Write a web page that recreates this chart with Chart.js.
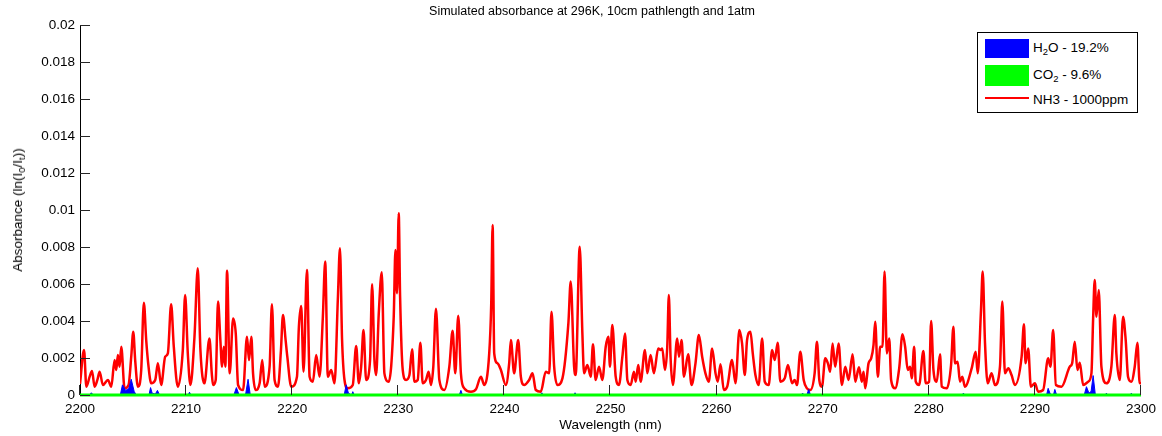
<!DOCTYPE html>
<html>
<head>
<meta charset="utf-8">
<script src="https://cdn.jsdelivr.net/npm/chart.js@4.4.1/dist/chart.umd.min.js"></script>
<style>
  body { margin: 0; background: #fff; }
  #wrap { position: relative; width: 1162px; height: 436px; font-family: "Liberation Sans", Arial, Helvetica, sans-serif; color: #000; }
  canvas { position: absolute; left: 0; top: 0; }
  .txt { position: absolute; white-space: nowrap; line-height: 16px; font-size: 13.5px; }
  .txt sub { font-size: 70%; vertical-align: -0.35em; line-height: 0; }
  #title { left: 592px; top: 4px; transform: translateX(-50%); font-size: 12.5px; line-height: 14px; }
  #ytitle { left: 18px; top: 210px; transform: translate(-50%, -50%) rotate(-90deg); }
  #legend { position: absolute; left: 977px; top: 32px; width: 159px; height: 79px; border: 1px solid #000; background: #fff; }
  .patch { position: absolute; }
</style>
</head>
<body>
<div id="wrap">
  <canvas id="chart" width="1162" height="436"></canvas>
  <div id="title" class="txt">Simulated absorbance at 296K, 10cm pathlength and 1atm</div>
  <div id="ytitle" class="txt">Absorbance (ln(I<sub>0</sub>/I<sub>t</sub>))</div>
  <div id="legend">
    <div class="patch" style="left:7px;top:6px;width:44px;height:19px;background:#0000ff"></div>
    <div class="patch" style="left:7px;top:32px;width:44px;height:21px;background:#00ff00"></div>
    <div class="patch" style="left:7px;top:64px;width:44px;height:2px;background:#ff0000"></div>
    <div class="txt" style="left:55px;top:7px">H<sub>2</sub>O - 19.2%</div>
    <div class="txt" style="left:55px;top:34px">CO<sub>2</sub> - 9.6%</div>
    <div class="txt" style="left:55px;top:59px">NH3 - 1000ppm</div>
  </div>
</div>
<script>
// NH3 absorbance spectrum (absorbance x 1000)
const nh3Wl = [
  2200.0, 2200.38, 2200.6, 2200.91, 2201.13, 2201.38, 2201.63, 2201.85, 2202.16, 2202.63, 2202.95, 2203.26, 2203.42, 2203.57, 2203.73, 2203.89, 2204.2, 2204.58, 2204.83, 2205.02, 2205.2, 2205.46, 2205.77, 2206.02, 2206.24, 2206.46, 2206.71, 2207.09, 2207.34, 2207.65, 2208.03, 2208.28, 2208.59, 2208.84, 2209.22, 2209.69, 2209.91,
  2210.16, 2210.41, 2210.79, 2211.1, 2211.35, 2211.73, 2212.2, 2212.42, 2212.54, 2212.79, 2213.01, 2213.23, 2213.39, 2213.55, 2213.7, 2213.86, 2214.11, 2214.43, 2214.68, 2214.9, 2215.37, 2215.74, 2215.93, 2216.15, 2216.31, 2216.56, 2216.93, 2217.18, 2217.4, 2217.87, 2218.09, 2218.34, 2218.66, 2218.94, 2219.13, 2219.38, 2219.54, 2219.91,
  2220.45, 2220.63, 2220.85, 2221.07, 2221.39, 2221.64, 2221.95, 2222.26, 2222.58, 2222.89, 2223.11, 2223.36, 2223.68, 2223.99, 2224.3, 2224.5, 2224.7, 2224.93, 2225.24, 2225.71, 2226.03, 2226.28, 2226.5, 2226.72, 2226.97, 2227.34, 2227.53, 2227.75, 2227.91, 2228.16, 2228.44, 2228.69, 2229.1, 2229.57, 2229.73, 2229.88,
  2230.04, 2230.17, 2230.42, 2230.73, 2231.05, 2231.3, 2231.52, 2231.83, 2232.08, 2232.3, 2232.61, 2232.86, 2233.08, 2233.3, 2233.55, 2233.87, 2234.34, 2234.81, 2235.12, 2235.37, 2235.65, 2235.9, 2236.22, 2236.85, 2237.32, 2237.79, 2238.1, 2238.57, 2238.76, 2238.89, 2239.04, 2239.36, 2239.67,
  2240.14, 2240.45, 2240.61, 2240.92, 2241.3, 2241.55, 2241.86, 2242.33, 2242.65, 2242.96, 2243.43, 2243.9, 2244.22, 2244.44, 2244.69, 2245.0, 2245.47, 2246.03, 2246.25, 2246.57, 2246.72, 2247.1, 2247.35, 2247.51, 2247.82, 2248.14, 2248.35, 2248.6, 2248.92, 2249.23, 2249.55, 2249.8, 2249.95,
  2250.17, 2250.49, 2250.8, 2251.12, 2251.37, 2251.59, 2251.9, 2252.21, 2252.37, 2252.62, 2252.84, 2253.25, 2253.47, 2253.78, 2254.09, 2254.5, 2254.72, 2254.88, 2255.13, 2255.35, 2255.5, 2255.66, 2255.88, 2256.29, 2256.45, 2256.7, 2256.92, 2257.32, 2257.64, 2258.01, 2258.33, 2258.64, 2258.95, 2259.27, 2259.58, 2259.9,
  2260.11, 2260.37, 2260.68, 2261.0, 2261.46, 2261.78, 2262.15, 2262.4, 2262.66, 2262.87, 2263.19, 2263.41, 2263.66, 2263.97, 2264.29, 2264.54, 2264.91, 2265.23, 2265.48, 2265.76, 2266.01, 2266.42, 2266.73, 2267.11, 2267.36, 2267.58, 2267.89, 2268.21, 2268.52, 2268.83, 2269.24, 2269.46, 2269.68, 2269.93,
  2270.24, 2270.49, 2270.71, 2270.93, 2271.18, 2271.5, 2271.81, 2272.13, 2272.44, 2272.82, 2273.07, 2273.42, 2273.69, 2273.85, 2274.01, 2274.32, 2274.57, 2274.79, 2274.95, 2275.2, 2275.42, 2275.64, 2275.83, 2276.05, 2276.27, 2276.45, 2276.83, 2277.21, 2277.52, 2277.77, 2278.02, 2278.24, 2278.4, 2278.62, 2278.77, 2279.09, 2279.49, 2279.71,
  2280.03, 2280.22, 2280.44, 2280.75, 2281.06, 2281.22, 2281.69, 2282.1, 2282.32, 2282.47, 2282.72, 2282.94, 2283.16, 2283.41, 2284.04, 2284.42, 2284.61, 2284.92, 2285.08, 2285.3, 2285.55, 2285.92, 2286.24, 2286.71, 2286.93, 2287.18, 2287.49, 2287.8, 2288.12, 2288.75, 2288.97, 2289.12, 2289.37, 2289.62,
  2290.0, 2290.31, 2290.78, 2291.25, 2291.47, 2291.72, 2291.98, 2292.51, 2293.29, 2293.51, 2293.76, 2294.01, 2294.23, 2294.55, 2295.02, 2295.33, 2295.49, 2295.64, 2295.8, 2296.02, 2296.27, 2296.74, 2297.21, 2297.53, 2297.68, 2298.0, 2298.31, 2298.56, 2298.78, 2299.09, 2299.41, 2299.66, 2299.88, 2300.0
]
const nh3Milli = [
  0.6, 2.43, 0.45, 0.99, 1.3, 0.45, 0.8, 1.26, 0.54, 0.81, 0.45, 1.89, 1.35, 2.16, 1.53, 2.61, 0.36, 0.54, 2.07, 3.42, 1.89, 0.45, 1.35, 4.99, 2.97, 1.53, 0.63, 0.81, 1.71, 0.54, 2.07, 2.25, 4.9, 2.61, 0.45, 2.43, 5.4,
  2.25, 0.54, 3.15, 6.85, 2.43, 0.63, 3.06, 1.17, 0.54, 0.81, 5.05, 2.97, 1.53, 2.61, 1.53, 6.72, 1.17, 4.14, 3.33, 0.54, 0.27, 3.15, 1.89, 3.15, 1.17, 0.27, 0.63, 1.89, 0.45, 1.53, 4.9, 0.81, 0.45, 2.43, 4.32, 2.97, 2.07, 0.45,
  0.99, 3.69, 4.81, 1.26, 6.76, 0.99, 0.72, 2.16, 0.99, 4.23, 7.21, 0.99, 1.35, 0.63, 5.14, 7.93, 3.0, 0.81, 0.36, 0.54, 2.65, 0.63, 1.53, 3.51, 0.81, 1.89, 5.99, 1.89, 1.08, 4.41, 6.63, 1.17, 0.72, 4.23, 7.84, 5.5,
  9.82, 5.32, 1.35, 0.81, 1.08, 2.47, 0.72, 0.81, 2.83, 0.63, 0.81, 1.26, 0.54, 1.53, 4.66, 0.81, 0.27, 1.53, 3.47, 1.17, 4.29, 1.17, 0.36, 0.18, 0.31, 0.99, 0.54, 2.25, 4.95, 9.19, 2.25, 1.71, 1.35,
  0.54, 1.71, 2.97, 1.17, 2.97, 0.99, 0.54, 0.81, 1.17, 0.27, 0.18, 1.26, 1.17, 4.5, 1.53, 0.54, 0.9, 3.87, 6.13, 1.53, 1.08, 8.02, 3.33, 1.17, 1.62, 0.99, 2.75, 0.81, 1.53, 0.81, 2.61, 3.15, 1.53,
  3.78, 0.99, 0.54, 2.07, 3.33, 0.81, 0.54, 1.26, 0.72, 1.62, 0.72, 2.43, 1.17, 2.16, 1.17, 2.52, 2.43, 2.52, 1.35, 2.61, 5.4, 2.07, 0.54, 3.06, 2.07, 2.97, 0.99, 2.2, 0.54, 1.71, 3.24, 2.07, 1.17, 0.72, 2.52, 1.17,
  0.72, 1.66, 0.27, 0.45, 1.89, 0.63, 3.51, 2.79, 1.08, 2.97, 3.42, 2.25, 1.08, 0.54, 3.06, 0.72, 0.54, 2.43, 1.89, 2.83, 0.72, 0.9, 1.62, 0.63, 0.81, 0.54, 2.34, 0.81, 0.36, 0.27, 1.17, 2.88, 0.81, 0.45,
  1.98, 1.71, 1.26, 2.79, 1.53, 2.79, 0.54, 1.53, 0.81, 2.2, 0.72, 1.5, 0.72, 1.26, 0.36, 1.71, 1.98, 2.7, 3.96, 0.99, 2.61, 2.61, 6.67, 2.25, 3.06, 0.81, 0.36, 1.44, 3.29, 2.61, 1.35, 1.53, 0.9, 2.61, 0.72, 0.54, 2.38, 0.63,
  0.72, 4.0, 1.35, 0.72, 2.2, 0.45, 0.36, 1.62, 3.69, 1.71, 1.8, 0.72, 0.99, 0.45, 1.44, 2.34, 1.17, 4.59, 6.67, 2.79, 0.63, 1.17, 0.54, 1.53, 5.05, 1.17, 1.44, 1.08, 0.54, 2.07, 3.83, 1.71, 2.52, 0.45,
  0.63, 0.18, 0.27, 1.98, 1.53, 3.51, 0.54, 0.45, 1.53, 1.71, 2.88, 1.35, 1.75, 0.54, 0.72, 1.17, 4.14, 6.22, 4.23, 5.68, 1.53, 0.63, 1.53, 4.32, 2.25, 0.81, 4.23, 2.97, 0.99, 0.72, 1.53, 2.83, 0.63, 0.63
]

// H2O lines (small, filled from zero), absorbance x 1000
const h2oWl = [
  2200.9, 2201.07, 2201.25,
  2203.8, 2204.0, 2204.3, 2204.6, 2204.83, 2205.1, 2205.3,
  2206.5, 2206.65, 2206.8, 2207.1, 2207.3, 2207.5,
  2210.2, 2210.32, 2210.45,
  2214.5, 2214.74, 2215.0, 2215.6, 2215.84, 2216.05,
  2224.9, 2225.09, 2225.3, 2225.6, 2225.71, 2225.85,
  2235.75, 2235.9, 2236.05,
  2243.4, 2243.53, 2243.65,
  2246.55, 2246.66, 2246.8,
  2267.95, 2268.11, 2268.25, 2268.5, 2268.68, 2268.85,
  2283.15, 2283.26, 2283.4,
  2291.1, 2291.25, 2291.45, 2291.75, 2291.88, 2292.05,
  2294.65, 2294.86, 2295.1, 2295.3, 2295.49, 2295.7,
  2296.65, 2296.74, 2296.85,
  2299.0, 2299.09, 2299.2
]
const h2oMilli = [
  0, 0.12, 0,
  0, 0.55, 0.25, 0.35, 0.85, 0.2, 0,
  0, 0.4, 0.1, 0.05, 0.25, 0,
  0, 0.15, 0,
  0, 0.4, 0, 0, 0.85, 0,
  0, 0.55, 0.1, 0, 0.18, 0,
  0, 0.25, 0,
  0, 0.12, 0,
  0, 0.12, 0,
  0, 0.1, 0, 0, 0.3, 0,
  0, 0.1, 0,
  0, 0.36, 0.05, 0, 0.3, 0,
  0, 0.45, 0.1, 0.2, 1.05, 0,
  0, 0.1, 0,
  0, 0.1, 0
]

// CO2 stays on the baseline over the whole range
const co2Wl = [2200, 2300]
const co2Milli = [0, 0]

const xTicks = { min: 2200, max: 2300, step: 10 }
const yTicks = { min: 0, max: 0.02, step: 0.002 }

const FONT = '"Liberation Sans", Arial, Helvetica, sans-serif'

function toPoints(wl, milli) {
  return wl.map((x, i) => ({ x: x, y: milli[i] / 1000 }))
}

// MATLAB style tick marks pointing into the axes
const insideTicks = {
  id: 'insideTicks',
  afterDatasetsDraw(chart) {
    const { ctx, chartArea, scales } = chart
    const len = 10
    ctx.save()
    ctx.strokeStyle = '#262626'
    ctx.lineWidth = 1
    ctx.beginPath()
    scales.x.ticks.forEach(t => {
      const px = Math.round(scales.x.getPixelForValue(t.value)) - 0.5
      ctx.moveTo(px, chartArea.bottom)
      ctx.lineTo(px, chartArea.bottom - len)
    })
    scales.y.ticks.forEach(t => {
      const py = Math.round(scales.y.getPixelForValue(t.value)) + 0.5
      ctx.moveTo(chartArea.left, py)
      ctx.lineTo(chartArea.left + len, py)
    })
    ctx.stroke()
    ctx.restore()
  }
}

const ctx = document.getElementById('chart')

new Chart(ctx, {
  type: 'line',
  data: {
    datasets: [
      {
        label: 'CO2 - 9.6%',
        data: toPoints(co2Wl, co2Milli),
        borderColor: '#00ff00',
        borderWidth: 3,
        pointRadius: 0,
        fill: false,
        clip: 4,
        order: 0
      },
      {
        label: 'H2O - 19.2%',
        data: toPoints(h2oWl, h2oMilli),
        borderColor: '#0000ff',
        backgroundColor: '#0000ff',
        borderWidth: 1,
        pointRadius: 0,
        fill: 'origin',
        order: 1
      },
      {
        label: 'NH3 - 1000ppm',
        data: toPoints(nh3Wl, nh3Milli),
        borderColor: '#ff0000',
        borderWidth: 2.5,
        pointRadius: 0,
        fill: false,
        cubicInterpolationMode: 'monotone',
        order: 2
      }
    ]
  },
  options: {
    responsive: false,
    animation: false,
    layout: { padding: { top: 25, right: 19, left: 0, bottom: 0 } },
    plugins: {
      legend: { display: false },
      tooltip: { enabled: false },
      title: { display: false }
    },
    scales: {
      x: {
        type: 'linear',
        min: xTicks.min,
        max: xTicks.max,
        grid: { display: false, drawTicks: false },
        border: { display: true, color: '#000', width: 1 },
        ticks: {
          stepSize: xTicks.step,
          maxRotation: 0,
          padding: 6,
          color: '#000',
          font: { family: FONT, size: 13.5 },
          callback: v => String(v)
        },
        title: {
          display: true,
          text: 'Wavelength (nm)',
          color: '#000',
          font: { family: FONT, size: 13.5 },
          padding: { top: 0, bottom: 3 }
        },
        afterFit: scale => { scale.height = 41 }
      },
      y: {
        type: 'linear',
        min: yTicks.min,
        max: yTicks.max,
        grid: { display: false, drawTicks: false },
        border: { display: true, color: '#000', width: 1 },
        ticks: {
          stepSize: yTicks.step,
          padding: 5,
          color: '#000',
          font: { family: FONT, size: 13.5 },
          callback: v => String(parseFloat(v.toFixed(4)))
        },
        afterFit: scale => { scale.width = 80 }
      }
    }
  },
  plugins: [insideTicks]
})
</script>
</body>
</html>
